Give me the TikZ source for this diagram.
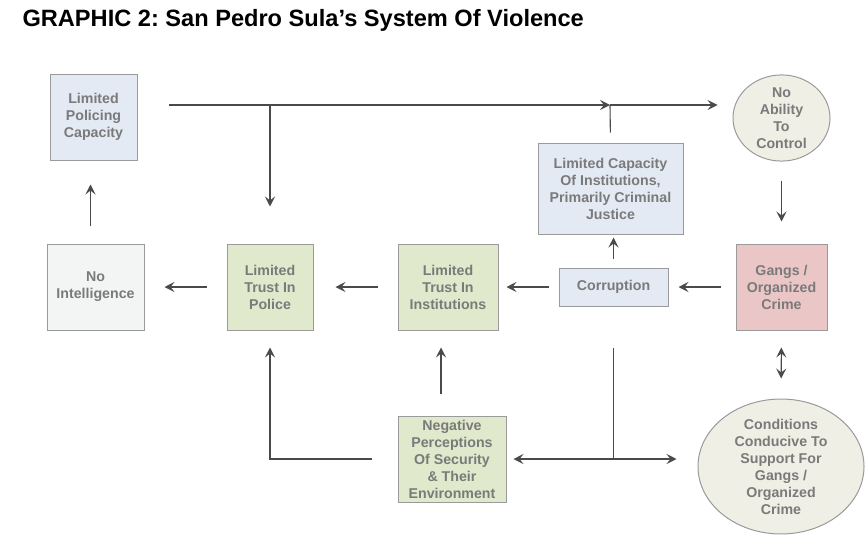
\documentclass[tikz,border=0pt]{standalone}
\usepackage{fontspec}
\setmainfont{Liberation Sans}
\usetikzlibrary{arrows.meta,shapes.geometric}
\definecolor{boxline}{HTML}{9A9A9A}
\definecolor{boxtext}{HTML}{7A7A7A}
\definecolor{arrline}{HTML}{4A4A4A}
\definecolor{fblue}{HTML}{E3EAF4}
\definecolor{fgray}{HTML}{F3F5F4}
\definecolor{fgreen}{HTML}{E0E9CB}
\definecolor{fpink}{HTML}{EBC6C6}
\definecolor{fbeige}{HTML}{EFEFE6}
\frenchspacing

\begin{document}
\begin{tikzpicture}[x=1pt,y=-1pt,>={Stealth[length=10pt,width=10pt,inset=4pt]},
   box/.style={draw=boxline,line width=1pt,inner sep=0pt,align=center,text=boxtext,
     font=\fontsize{14.2}{17}\selectfont\bfseries},
   oval/.style={box,ellipse},
   arr/.style={draw=arrline,line width=1.1pt}]
   \useasboundingbox (0,0) rectangle (865,546);

   \node[anchor=west,font=\fontsize{23.6}{26}\selectfont\bfseries] (title) at (19,20) {GRAPHIC 2: San Pedro Sula’s System Of Violence};

   \node[box,fill=fblue,minimum width=87pt,minimum height=86pt] (lpc) at (93.5,117) {Limited\\Policing\\Capacity};
   \node[box,fill=fgray,minimum width=97pt,minimum height=86pt] (noint) at (95.5,287) {No\\Intelligence};
   \node[box,fill=fgreen,minimum width=86pt,minimum height=86pt] (tpol) at (270,287) {Limited\\Trust In\\Police};
   \node[box,fill=fgreen,minimum width=100pt,minimum height=86pt] (tinst) at (448,287) {Limited\\Trust In\\Institutions};
   \node[box,fill=fblue,minimum width=145pt,minimum height=91pt] (lci) at (610.5,188.5) {Limited Capacity\\Of Institutions,\\Primarily Criminal\\Justice};
   \node[box,fill=fblue,minimum width=109pt,minimum height=38pt] (corr) at (613.5,287) {Corruption};
   \node[box,fill=fpink,minimum width=91pt,minimum height=86pt] (gangs) at (781.5,287) {Gangs /\\Organized\\Crime};
   \node[oval,fill=fbeige,minimum width=97pt,minimum height=86pt] (noab) at (781.5,118) {No\\Ability\\To\\Control};
   \node[box,fill=fgreen,minimum width=108pt,minimum height=86pt] (negp) at (452,459) {Negative\\Perceptions\\Of Security\\\& Their\\Environment};
   \node[oval,fill=fbeige,minimum width=166pt,minimum height=111pt] (cond) at (781,466.5) {Conditions\\Conducive To\\Support For\\Gangs /\\Organized\\Crime};

   \coordinate (topl) at (169,105);
   \coordinate (ja) at (270,105);
   \coordinate (jb) at (610,105);

   \draw [arr] (topl) -- (ja) ;
   \draw [arr,->] (ja) -- (jb) ;
   \draw [arr,->,shorten >=15pt] (jb) -- (jb -| noab.west) ;
   \draw [arr,->,shorten >=37pt] (ja) -- (tpol.north) ;
   \draw [arr,shorten <=10pt] (lci.north) -- (jb) ;

   \draw [arr,->,shorten <=18pt,shorten >=24pt] ([xshift=-5pt]noint.north) -- ([xshift=-5pt]noint.north |- lpc.south) ;
   \draw [arr,->,shorten <=20pt,shorten >=20pt] (tpol.west) -- (noint.east) ;
   \draw [arr,->,shorten <=20pt,shorten >=22pt] (tinst.west) -- (tpol.east) ;
   \draw [arr,->,shorten <=10pt,shorten >=8pt] (corr.west) -- (tinst.east) ;
   \draw [arr,->,shorten <=15pt,shorten >=10pt] (gangs.west) -- (corr.east) ;
   \draw [arr,->,shorten <=9pt,shorten >=3pt] (corr.north) -- (corr.north |- lci.south) ;
   \draw [arr,->,shorten <=19pt,shorten >=22pt] (noab.south) -- (gangs.north) ;
   \draw [arr,<->,shorten <=17pt,shorten >=20pt] (gangs.south) -- (cond.north) ;

   \draw [arr,->,shorten <=26pt,shorten >=17pt] (negp.west) -| (tpol.south) ;
   \draw [arr,->,shorten <=22pt,shorten >=17pt] ([xshift=-11pt]negp.north) -- ([xshift=-7pt]tinst.south) ;
   \draw [arr,shorten <=41pt] (corr.south) -- (corr.south |- negp.east) ;
   \draw [arr,<->,shorten <=7pt,shorten >=21pt] (negp.east) -- (negp.east -| cond.west) ;
 \end{tikzpicture}
\end{document}
